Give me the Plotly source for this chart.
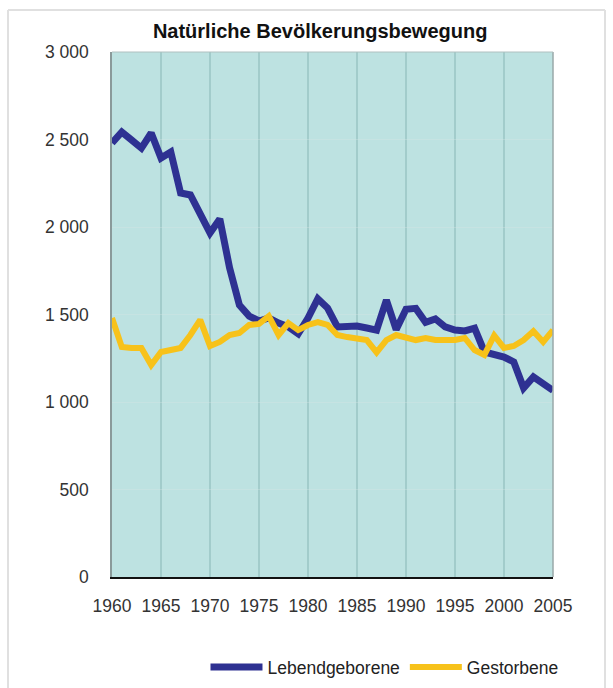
import plotly.graph_objects as go

# Natürliche Bevölkerungsbewegung, 1960–2005
years = list(range(1960, 2006))

lebendgeborene = [
    2480, 2543, 2497, 2451, 2537, 2394, 2429, 2194, 2183, 2074,
    1966, 2046, 1766, 1554, 1491, 1463, 1480, 1451, 1429, 1390,
    1480, 1590, 1537, 1429, 1429, 1434, 1423, 1411, 1583, 1414,
    1530, 1535, 1455, 1475, 1429, 1411, 1406, 1422, 1286, 1269,
    1257, 1229, 1080, 1143, 1103, 1066,
]

gestorbene = [
    1480, 1314, 1309, 1309, 1211, 1286, 1297, 1309, 1383, 1469,
    1320, 1343, 1383, 1394, 1440, 1446, 1491, 1383, 1451, 1411,
    1440, 1457, 1440, 1383, 1371, 1366, 1354, 1283, 1354, 1383,
    1366, 1354, 1366, 1354, 1354, 1354, 1366, 1297, 1269, 1380,
    1309, 1320, 1354, 1405, 1343, 1411,
]

x_ticks = list(range(1960, 2006, 5))
y_ticks = [0, 500, 1000, 1500, 2000, 2500, 3000]
y_tick_labels = ["0", "500", "1 000", "1 500", "2 000", "2 500", "3 000"]

FONT = "Liberation Sans, Arial, sans-serif"
FRAME = "#e0e0e0"

fig = go.Figure()
fig.add_trace(go.Scatter(
    x=years, y=lebendgeborene, name="Lebendgeborene", mode="lines",
    line=dict(color="#2e3192", width=7),
))
fig.add_trace(go.Scatter(
    x=years, y=gestorbene, name="Gestorbene", mode="lines",
    line=dict(color="#f7c21a", width=6),
))

fig.update_layout(
    width=613, height=688,
    margin=dict(l=112, r=60, t=52, b=111),
    paper_bgcolor="white",
    plot_bgcolor="#bde2e1",
    font=dict(family=FONT, size=17, color="#333333"),
    title=dict(
        text="<b>Natürliche Bevölkerungsbewegung</b>",
        font=dict(family=FONT, size=20, color="#111111"),
        xref="paper", x=0.472, xanchor="center",
        yref="container", y=1 - 31 / 688, yanchor="middle",
    ),
    showlegend=True,
    legend=dict(
        orientation="h",
        xref="paper", x=0.212, xanchor="left",
        yref="container", y=21 / 688, yanchor="middle",
        font=dict(family=FONT, size=17.5, color="#222222"),
        itemwidth=52,
        bgcolor="rgba(0,0,0,0)",
    ),
)

fig.update_xaxes(
    range=[1960, 2005],
    tickvals=x_ticks,
    showgrid=True, gridcolor="#a2cccb", gridwidth=1.5,
    zeroline=False,
    showline=True, linecolor="#111111", linewidth=2,
    ticks="", ticklabelstandoff=12,
    tickfont=dict(size=17.5, color="#333333"),
)
fig.update_yaxes(
    range=[0, 3000],
    tickvals=y_ticks, ticktext=y_tick_labels,
    showgrid=True, gridcolor="rgba(215,228,228,0.35)", gridwidth=1,
    zeroline=False,
    showline=True, linecolor="#8a9a9a", linewidth=1.5,
    ticks="", ticklabelstandoff=18,
    tickfont=dict(size=17.5, color="#333333"),
)

# right and top border of the plot area
fig.add_shape(type="line", xref="paper", yref="paper", x0=1, x1=1, y0=0, y1=1,
              line=dict(color="#9aa8a8", width=1.5))
fig.add_shape(type="line", xref="paper", yref="paper", x0=0, x1=1, y0=1, y1=1,
              line=dict(color="#b0c0c0", width=1))

# light frame around the whole chart (top, left, right)
fx0, fx1 = -104 / 441, 493 / 441
fy0, fy1 = -111 / 525, 567 / 525
for x0, x1, y0, y1 in [(fx0, fx1, fy1, fy1), (fx0, fx0, fy0, fy1), (fx1, fx1, fy0, fy1)]:
    fig.add_shape(type="line", xref="paper", yref="paper",
                  x0=x0, x1=x1, y0=y0, y1=y1,
                  line=dict(color=FRAME, width=2))

fig.write_html("out.html")
